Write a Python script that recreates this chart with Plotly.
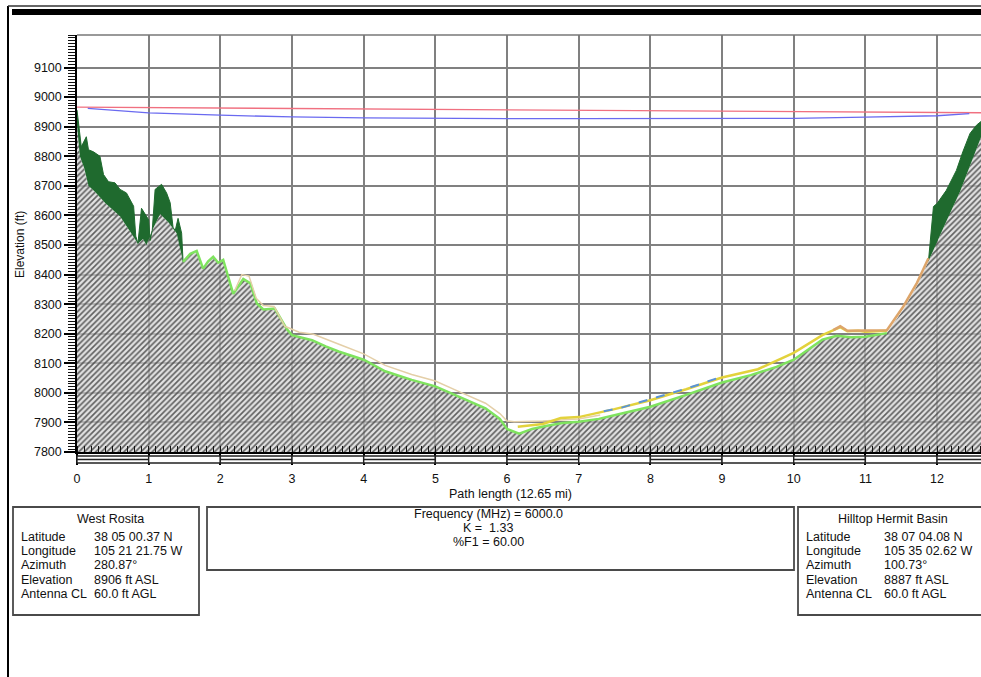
import plotly.graph_objects as go

# ---------------- data ----------------
path_length = 12.65
site_a = "West Rosita"
site_b = "Hilltop Hermit Basin"
elev_a = 8906
elev_b = 8887
antenna_cl = 60.0

path_mi = [0.00, 0.04, 0.10, 0.16, 0.25, 0.40, 0.60, 0.79, 0.85, 0.92, 0.97, 1.05, 1.16, 1.28, 1.39,
           1.48, 1.58, 1.67, 1.76, 1.83, 1.90, 1.97, 2.04, 2.18, 2.32, 2.42, 2.51, 2.60, 2.76, 2.93,
           3.00, 3.28, 3.47, 3.65, 4.00, 4.30, 4.67, 5.00, 5.37, 5.70, 5.90, 6.00, 6.17, 6.35, 6.54,
           6.77, 7.00, 7.28, 7.60, 8.00, 8.50, 9.00, 9.40, 9.76, 10.00, 10.20, 10.40, 10.60, 10.80,
           11.00, 11.30, 11.53, 11.72, 11.88, 11.96, 12.13, 12.32, 12.46, 12.61, 12.65]
terrain_ft = [8906, 8800, 8760, 8700, 8680, 8640, 8597, 8530, 8505, 8520, 8500, 8550, 8605, 8575, 8540,
              8443, 8470, 8480, 8420, 8445, 8460, 8440, 8450, 8335, 8385, 8370, 8302, 8282, 8285, 8215,
              8195, 8178, 8157, 8140, 8112, 8073, 8044, 8022, 7982, 7948, 7912, 7878, 7862, 7878, 7888,
              7898, 7902, 7912, 7930, 7953, 7993, 8035, 8060, 8088, 8112, 8145, 8180, 8193, 8188,
              8190, 8202, 8282, 8362, 8445, 8490, 8580, 8680, 8770, 8860, 8887]

tree_l_mi = [0.00, 0.03, 0.06, 0.13, 0.16, 0.23, 0.32, 0.37, 0.44, 0.53, 0.60, 0.69, 0.79, 0.82,
             0.85, 0.90, 1.00, 1.02, 1.05, 1.09, 1.18, 1.25, 1.30, 1.34, 1.37, 1.41, 1.46, 1.48]
tree_l_ft = [8956, 8890, 8832, 8866, 8822, 8815, 8800, 8738, 8714, 8710, 8688, 8676, 8631, 8530,
             8505, 8624, 8585, 8515, 8550, 8688, 8705, 8676, 8643, 8560, 8548, 8590, 8540, 8443]

tree_r_mi = [11.88, 11.92, 11.95, 12.00, 12.13, 12.27, 12.36, 12.46, 12.55, 12.65]
tree_r_ft = [8445, 8560, 8630, 8640, 8685, 8752, 8815, 8877, 8905, 8925]

tan_mi = [2.20, 2.30, 2.40, 2.50, 2.60, 2.75, 2.90, 3.10, 3.30, 3.50, 3.70, 4.00, 4.30, 4.67, 5.00,
          5.37, 5.70, 5.90, 6.00, 6.10, 6.50, 7.00, 7.30]
tan_ft = [8345, 8400, 8395, 8320, 8295, 8292, 8225, 8205, 8198, 8178, 8160, 8132, 8093, 8062, 8040,
          8000, 7965, 7930, 7905, 7902, 7905, 7912, 7925]

yel_mi = [6.15, 6.50, 6.75, 7.00, 7.50, 8.00, 8.50, 9.00, 9.50, 10.00, 10.40, 10.55, 10.65, 10.75,
          10.90, 11.00, 11.30]
yel_ft = [7885, 7895, 7915, 7918, 7945, 7975, 8012, 8052, 8080, 8135, 8195, 8210, 8222, 8208,
          8210, 8207, 8210]

org_mi = [10.55, 10.65, 10.75, 11.00, 11.30, 11.53, 11.72, 11.88]
org_ft = [8212, 8225, 8210, 8210, 8212, 8292, 8372, 8455]

blu_mi = [7.35, 7.60, 7.85, 8.10, 8.40, 8.70, 9.00]
blu_ft = [7938, 7950, 7968, 7985, 8007, 8030, 8055]

fres_mi = [0.15, 1, 2, 3, 4, 5, 6, 7, 8, 9, 10, 11, 12, 12.45]
fres_ft = [8962, 8947, 8939, 8933, 8930, 8928, 8927, 8927, 8927, 8927, 8928, 8932, 8937, 8944]

x_ticks = list(range(0, 13))
y_ticks = list(range(7800, 9101, 100))

left_info = [("Latitude", "38 05 00.37 N"), ("Longitude", "105 21 21.75 W"), ("Azimuth", "280.87°"),
             ("Elevation", "8906 ft ASL"), ("Antenna CL", "60.0 ft AGL")]
right_info = [("Latitude", "38 07 04.08 N"), ("Longitude", "105 35 02.62 W"), ("Azimuth", "100.73°"),
              ("Elevation", "8887 ft ASL"), ("Antenna CL", "60.0 ft AGL")]
mid_info = ["Frequency (MHz) = 6000.0", "K =  1.33", "%F1 = 60.00"]

# ---------------- layout helpers ----------------
W, H = 981, 677
L, R, T, B = 77, 981, 35, 452
XMAX = (R - L) / 71.67
YMAX = 9210
FONT = "Liberation Sans, Arial, sans-serif"


def fx(px):
    return (px - L) / (R - L)


def fy(py):
    return (B - py) / (B - T)


fig = go.Figure()

# terrain (hatched)
fig.add_trace(go.Scatter(
    x=path_mi, y=terrain_ft, mode="lines", line=dict(width=0, color="rgba(0,0,0,0)"),
    fill="tozeroy", fillcolor="rgba(205,205,205,0.7)",
    fillpattern=dict(shape="/", size=4, solidity=0.42, fgcolor="#4a4a4a", fgopacity=0.85,
                     bgcolor="rgba(210,210,210,0.65)"),
    hoverinfo="skip", showlegend=False))

# trees (left)
base_l = [(m, t) for m, t in zip(path_mi, terrain_ft) if m <= tree_l_mi[-1]]
fig.add_trace(go.Scatter(x=[b[0] for b in base_l], y=[b[1] for b in base_l], mode="lines",
                         line=dict(width=0), showlegend=False, hoverinfo="skip"))
fig.add_trace(go.Scatter(x=tree_l_mi, y=tree_l_ft, mode="lines", line=dict(width=1, color="#1f6a2e"),
                         fill="tonexty", fillcolor="#1f6a2e", showlegend=False, hoverinfo="skip"))
# trees (right)
base_r = [(m, t) for m, t in zip(path_mi, terrain_ft) if m >= tree_r_mi[0]]
fig.add_trace(go.Scatter(x=[b[0] for b in base_r], y=[b[1] for b in base_r], mode="lines",
                         line=dict(width=0), showlegend=False, hoverinfo="skip"))
fig.add_trace(go.Scatter(x=tree_r_mi, y=tree_r_ft, mode="lines", line=dict(width=1, color="#1f6a2e"),
                         fill="tonexty", fillcolor="#1f6a2e", showlegend=False, hoverinfo="skip"))

# terrain outline (light green) outside tree areas
seg = [(m, t) for m, t in zip(path_mi, terrain_ft) if tree_l_mi[-1] <= m <= 11.35]
fig.add_trace(go.Scatter(x=[s[0] for s in seg], y=[s[1] for s in seg], mode="lines",
                         line=dict(width=2.5, color="#7fe35f"), showlegend=False, hoverinfo="skip"))

# clutter lines
fig.add_trace(go.Scatter(x=tan_mi, y=tan_ft, mode="lines", line=dict(width=1.5, color="#e4cfa8"),
                         showlegend=False, hoverinfo="skip"))
fig.add_trace(go.Scatter(x=yel_mi, y=yel_ft, mode="lines", line=dict(width=2.5, color="#e3d23c"),
                         showlegend=False, hoverinfo="skip"))
fig.add_trace(go.Scatter(x=org_mi, y=org_ft, mode="lines", line=dict(width=2.5, color="#dda56a"),
                         showlegend=False, hoverinfo="skip"))
fig.add_trace(go.Scatter(x=blu_mi, y=blu_ft, mode="lines", line=dict(width=2, color="#5a93d6", dash="dash"),
                         showlegend=False, hoverinfo="skip"))

# line of sight (red) and blue curve
fig.add_trace(go.Scatter(x=[0, path_length], y=[elev_a + antenna_cl, elev_b + antenna_cl], mode="lines",
                         line=dict(width=1.3, color="#f07080"), showlegend=False, hoverinfo="skip"))
fig.add_trace(go.Scatter(x=fres_mi, y=fres_ft, mode="lines", line=dict(width=1.3, color="#6a6af0"),
                         showlegend=False, hoverinfo="skip"))

shapes = []
# outer frame decorations
shapes.append(dict(type="line", xref="paper", yref="paper", x0=fx(8), x1=fx(8), y0=fy(6), y1=fy(680),
                   line=dict(color="black", width=2)))
shapes.append(dict(type="line", xref="paper", yref="paper", x0=fx(8), x1=fx(985), y0=fy(6), y1=fy(6),
                   line=dict(color="#333", width=1.5)))
shapes.append(dict(type="rect", xref="paper", yref="paper", x0=fx(12), x1=fx(985), y0=fy(9), y1=fy(15),
                   fillcolor="black", line=dict(width=0)))
# top frame of plot
shapes.append(dict(type="line", xref="paper", yref="paper", x0=0, x1=1, y0=1, y1=1,
                   line=dict(color="#777", width=1.5)))
# scale bar under x axis
for i in x_ticks:
    x0 = i / XMAX
    x1 = min(i + 1, path_length) / XMAX
    shapes.append(dict(type="rect", xref="paper", yref="paper", x0=x0, x1=x1, y0=fy(463), y1=fy(456),
                       fillcolor="white", line=dict(color="#222", width=1.4), layer="above"))
    if i % 2 == 0:
        shapes.append(dict(type="line", xref="paper", yref="paper", x0=x0, x1=x1, y0=fy(459.5), y1=fy(459.5),
                           line=dict(color="#222", width=1.4)))
# info boxes
for (a, b, c, d) in [(13, 507, 199, 615), (207, 507, 794, 570), (798, 507, 1000, 615)]:
    shapes.append(dict(type="rect", xref="paper", yref="paper", x0=fx(a), x1=fx(c), y0=fy(d), y1=fy(b),
                       line=dict(color="#4a4a4a", width=1.8), fillcolor="rgba(0,0,0,0)"))

ann = []
tf = dict(family=FONT, size=12.5, color="#111")


def txt(px, py, s, anchor="left"):
    ann.append(dict(xref="paper", yref="paper", x=fx(px), y=fy(py), text=s, showarrow=False,
                    xanchor=anchor, yanchor="middle", font=tf))


rows_y = [537, 551, 565, 580, 594]
txt(110, 519, site_a, "center")
for (lab, val), yy in zip(left_info, rows_y):
    txt(19, yy, lab)
    txt(92, yy, val)
txt(893, 519, site_b, "center")
for (lab, val), yy in zip(right_info, rows_y):
    txt(804, yy, lab)
    txt(882, yy, val)
for s, yy in zip(mid_info, [514, 528, 542]):
    txt(488, yy, s, "center")
txt(510, 494, "Path length (%.2f mi)" % path_length, "center")
ann.append(dict(xref="paper", yref="paper", x=fx(20), y=fy(245), text="Elevation (ft)", showarrow=False,
                textangle=-90, xanchor="center", yanchor="middle", font=dict(family=FONT, size=12, color="#111")))

fig.update_layout(
    width=W, height=H, autosize=False,
    margin=dict(l=L, r=W - R, t=T, b=H - B, pad=0),
    paper_bgcolor="white", plot_bgcolor="white",
    shapes=shapes, annotations=ann,
    font=dict(family=FONT, size=12.5, color="#111"),
    xaxis=dict(range=[0, XMAX], tickvals=x_ticks, ticktext=[str(t) for t in x_ticks],
               showgrid=True, gridcolor="#808080", gridwidth=1.6,
               showline=True, linecolor="black", linewidth=1.5,
               ticks="outside", ticklen=11, tickcolor="black", tickwidth=1.5,
               ticklabelstandoff=3,
               minor=dict(dtick=0.1, tick0=0, ticks="inside", ticklen=6, tickcolor="#111", tickwidth=1,
                          showgrid=False),
               zeroline=False, fixedrange=True),
    yaxis=dict(range=[7800, YMAX], tickvals=y_ticks, ticktext=[str(t) for t in y_ticks],
               showgrid=True, gridcolor="#808080", gridwidth=1.6,
               showline=True, linecolor="black", linewidth=1.5,
               ticks="outside", ticklen=11, tickcolor="black", tickwidth=1.5,
               minor=dict(dtick=10, tick0=7800, ticks="outside", ticklen=7, tickcolor="#111", tickwidth=1,
                          showgrid=False),
               zeroline=False, fixedrange=True),
)

fig.write_html("out.html")
